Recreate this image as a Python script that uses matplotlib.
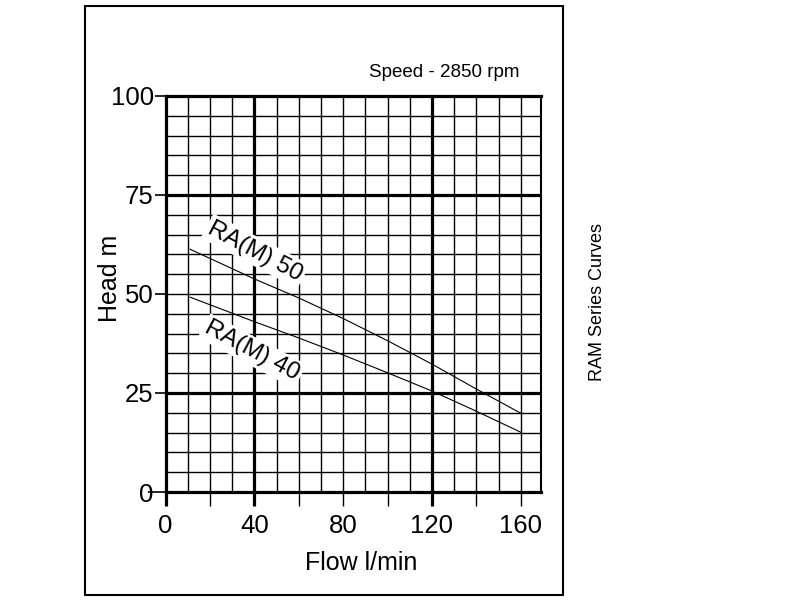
import matplotlib
matplotlib.use('Agg')
import matplotlib.pyplot as plt
import numpy as np
from matplotlib.patches import Rectangle

plt.rcParams['font.family'] = ['Liberation Sans', 'DejaVu Sans']

# dados (vazão l/min x altura m)
flow = [11, 40, 60, 80, 100, 120, 140, 160]
ra50 = [61.3, 53.8, 49.0, 43.8, 38.2, 32.3, 26.0, 19.9]
ra40 = [49.2, 43.0, 38.9, 34.6, 30.1, 25.5, 20.4, 15.1]

x_ticks = [0, 20, 40, 60, 80, 100, 120, 140, 160]
x_tick_labels = ['0', '', '40', '', '80', '', '120', '', '160']
y_ticks = [0, 25, 50, 75, 100]
thick_x = [40, 120]
thick_y = [25, 75]

fig = plt.figure(figsize=(8, 6), dpi=100)
ax = fig.add_axes([0.2071, 0.18, 0.4688, 0.66])

ax.plot(flow, ra50, color='black', linewidth=0.8, zorder=4)
ax.plot(flow, ra40, color='black', linewidth=0.8, zorder=4)

ax.set_xlim(0, 169)
ax.set_ylim(0, 100)

# grade fina
ax.set_xticks(np.arange(0, 161, 10), minor=True)
ax.set_yticks(np.arange(0, 101, 5), minor=True)
ax.grid(which='both', color='black', linewidth=1.0, zorder=1)
ax.tick_params(which='minor', length=0)

# linhas grossas
for xv in thick_x:
    ax.axvline(xv, color='black', linewidth=2.3, zorder=2)
for yv in thick_y:
    ax.axhline(yv, color='black', linewidth=2.3, zorder=2)

ax.set_xticks(x_ticks)
ax.set_xticklabels(x_tick_labels, fontsize=18.5)
ax.set_yticks(y_ticks)
ax.set_yticklabels([str(v) for v in y_ticks], fontsize=18.5)
ax.tick_params(axis='x', which='major', direction='out', length=10, width=1.0, pad=6)
ax.tick_params(axis='y', which='major', direction='out', length=8, width=1.2, pad=0.5)

for i, t in enumerate(ax.xaxis.get_major_ticks()):
    if x_ticks[i] in (0, 40, 120):
        t.tick1line.set_markeredgewidth(2.3)
ax.yaxis.get_major_ticks()[0].tick1line.set_markersize(13)

for s in ['left', 'top', 'bottom']:
    ax.spines[s].set_linewidth(2.3)
ax.spines['right'].set_linewidth(1.5)
for s in ax.spines.values():
    s.set_zorder(5)

bbox = dict(facecolor='white', edgecolor='none', pad=2.0)
ax.text(40.4, 60.8, 'RA(M) 50', rotation=-28, fontsize=17.5, ha='center', va='center',
        rotation_mode='anchor', bbox=bbox, zorder=3)
ax.text(39.0, 35.6, 'RA(M) 40', rotation=-28, fontsize=17.5, ha='center', va='center',
        rotation_mode='anchor', bbox=bbox, zorder=3)

fig.text(444 / 800, 1 - 77 / 600, 'Speed - 2850 rpm', fontsize=13.5, ha='center', va='baseline')
fig.text(361 / 800, 1 - 570 / 600, 'Flow l/min', fontsize=18, ha='center', va='baseline')
fig.text(110 / 800, 1 - 278 / 600, 'Head m', fontsize=18, rotation=90, ha='center', va='center')
fig.text(598 / 800, 1 - 302 / 600, 'RAM Series Curves', fontsize=13, rotation=90, ha='center', va='center')

# moldura externa
fig.patches.append(Rectangle((85 / 800, 1 - 595 / 600), (563 - 85) / 800, (595 - 6) / 600,
                             transform=fig.transFigure, fill=False, edgecolor='black', linewidth=1.5))

fig.savefig('out.png', dpi=100)
